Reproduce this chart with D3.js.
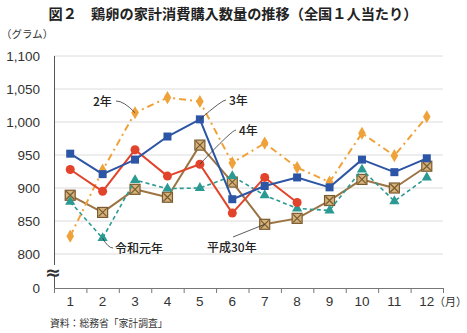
<!DOCTYPE html>
<html><head><meta charset="utf-8">
<script src="https://cdn.jsdelivr.net/npm/d3@7"></script>
<style>
html,body{margin:0;padding:0;background:#fff;}
svg{display:block;}
</style></head>
<body>
<svg id="c" width="467" height="333"></svg>
<script>
const months = [1,2,3,4,5,6,7,8,9,10,11,12];
const yTicks = [0,800,850,900,950,1000,1050,1100];
const gridTicks = [800,850,900,950,1000,1050,1100];
const h30 = [889,863,898,886,965,909,845,854,881,913,900,933];
const r1  = [879,824,912,899,900,918,889,869,866,928,880,916];
const r2  = [827,927,1014,1037,1031,938,968,931,909,983,949,1008];
const r3  = [952,921,943,978,1004,883,903,916,901,943,924,945];
const r4  = [928,895,958,918,936,862,916,878];

const svg = d3.select("#c");
const JP = "'Noto Sans CJK JP', 'Noto Sans', sans-serif";
const NUM = "'Liberation Sans', Arial, sans-serif";

const x = d3.scaleLinear().domain([0.5,12.5]).range([54,443]);
const y = d3.scaleLinear().domain([0,800,1100]).range([288,254,56]);

// title
svg.append("text").attr("x",233).attr("y",19).attr("text-anchor","middle")
  .attr("font-family",JP).attr("font-weight","bold").attr("font-size",14.2).attr("fill","#222")
  .text("図２　鶏卵の家計消費購入数量の推移（全国１人当たり）");
svg.append("text").attr("x",1).attr("y",38).attr("font-family",JP).attr("font-size",10.5).attr("fill","#333")
  .text("（グラム）");

// grid
svg.append("g").selectAll("line").data(gridTicks).join("line")
  .attr("x1",54).attr("x2",443).attr("y1",d=>y(d)).attr("y2",d=>y(d))
  .attr("stroke","#dcdcdc").attr("stroke-width",1);

// y labels
svg.append("g").selectAll("text").data(yTicks).join("text")
  .attr("x",40).attr("y",d=>y(d)+5).attr("text-anchor","end")
  .attr("font-family",NUM).attr("font-size",13.5).attr("fill","#333")
  .text(d=>d3.format(",")(d));

// y axis line
svg.append("line").attr("x1",54.5).attr("x2",54.5).attr("y1",y(1100)).attr("y2",288)
  .attr("stroke","#555").attr("stroke-width",1);

// x axis
const xAxis = d3.axisBottom(x).tickValues(d3.range(0.5,13,1)).tickFormat("").tickSize(5).tickSizeOuter(0);
const gx = svg.append("g").attr("transform","translate(0,288)").call(xAxis);
gx.select(".domain").attr("stroke","#777");
gx.selectAll(".tick line").attr("stroke","#777");
svg.append("g").selectAll("text").data(months).join("text")
  .attr("x",d=>x(d)).attr("y",306).attr("text-anchor","middle")
  .attr("font-family",NUM).attr("font-size",13.5).attr("fill","#333").text(d=>d);
svg.append("text").attr("x",434).attr("y",306).attr("font-family",JP).attr("font-size",11).attr("fill","#333").text("（月）");

// axis break
svg.append("rect").attr("x",45).attr("y",265).attr("width",18).attr("height",11).attr("fill","#fff");
svg.append("text").attr("x",53).attr("y",279).attr("text-anchor","middle").attr("font-family","'DejaVu Sans', sans-serif")
  .attr("font-weight","bold").attr("font-size",19).attr("fill","#333").text("≈");

// source
svg.append("text").attr("x",50).attr("y",327).attr("font-family",JP).attr("font-size",9.8).attr("fill","#333")
  .text("資料：総務省「家計調査」");

const line = d3.line().x((d,i)=>x(i+1)).y(d=>y(d));

function series(data, color, width, dash){
  svg.append("path").datum(data).attr("d",line).attr("fill","none")
    .attr("stroke",color).attr("stroke-width",width).attr("stroke-dasharray",dash||null)
    .attr("stroke-linejoin","round");
}
const pts = data => data.map((v,i)=>[x(i+1),y(v)]);

// H30
series(h30,"#9c7444",2);
svg.append("g").selectAll("g").data(pts(h30)).join("g").each(function(p){
  const g=d3.select(this);
  g.append("rect").attr("x",p[0]-5).attr("y",p[1]-5).attr("width",10).attr("height",10)
   .attr("fill","#d4b27a").attr("stroke","#7a5a30").attr("stroke-width",1.2);
  g.append("path").attr("d",`M${p[0]-4},${p[1]-4}L${p[0]+4},${p[1]+4}M${p[0]+4},${p[1]-4}L${p[0]-4},${p[1]+4}`)
   .attr("stroke","#7a5a30").attr("stroke-width",1.2);
});
// R1
series(r1,"#2a9a92",1.6,"4,3");
svg.append("g").selectAll("path").data(pts(r1)).join("path")
  .attr("d",d3.symbol(d3.symbolTriangle,45)).attr("transform",p=>`translate(${p[0]},${p[1]})`)
  .attr("fill","#2a9a92");
// R2
series(r2,"#f0a23a",2,"7,4,2,4");
svg.append("g").selectAll("path").data(pts(r2)).join("path")
  .attr("d",d3.symbol(d3.symbolDiamond,50)).attr("transform",p=>`translate(${p[0]},${p[1]})`)
  .attr("fill","#f0a23a");
// R4
series(r4,"#e2432b",2);
svg.append("g").selectAll("circle").data(pts(r4)).join("circle")
  .attr("cx",p=>p[0]).attr("cy",p=>p[1]).attr("r",4.5).attr("fill","#e2432b");
// R3
series(r3,"#2c55a5",2);
svg.append("g").selectAll("rect").data(pts(r3)).join("rect")
  .attr("x",p=>p[0]-4).attr("y",p=>p[1]-4).attr("width",8).attr("height",8).attr("fill","#2c55a5");

// annotations
const ann = [
  {t:"2年", tx:93, ty:106, path:`M116,101 Q124,101 ${x(3)},${y(r2[2])}`},
  {t:"3年", tx:229, ty:105, path:`M226,100 Q222,100 ${x(5)},${y(r3[4])}`},
  {t:"4年", tx:239, ty:135, path:`M236,130 Q232,130 ${x(5)},${y(r4[4])}`},
  {t:"令和元年", tx:115, ty:253, path:`M${x(2)},${y(r1[1])} Q108,248 113,248`},
  {t:"平成30年", tx:207, ty:252, path:`M233,237 L${x(7)},${y(h30[6])}`}
];
svg.append("g").selectAll("path").data(ann).join("path").attr("d",d=>d.path)
  .attr("fill","none").attr("stroke","#333").attr("stroke-width",0.8);
svg.append("g").selectAll("text").data(ann).join("text")
  .attr("x",d=>d.tx).attr("y",d=>d.ty).attr("font-family",JP).attr("font-size",12)
  .attr("font-weight","500").attr("fill","#222").text(d=>d.t);
</script>
</body></html>
